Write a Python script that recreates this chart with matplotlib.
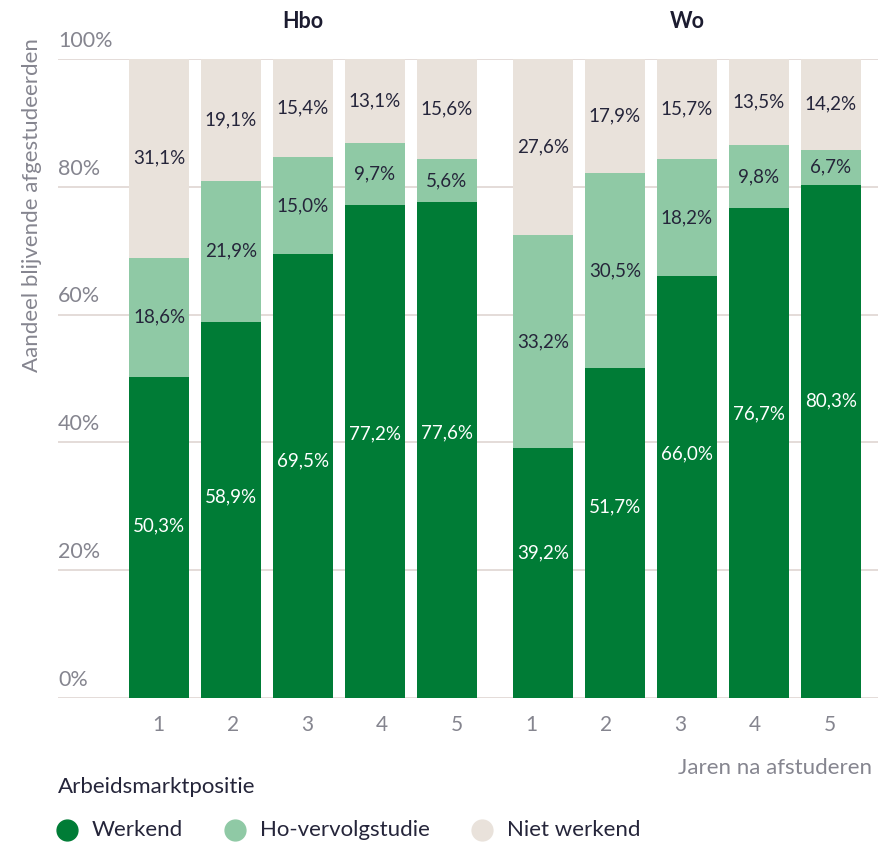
import matplotlib
matplotlib.use('Agg')
import matplotlib.pyplot as plt
import numpy as np
from matplotlib import transforms

plt.rcParams['font.family'] = ['Lato', 'DejaVu Sans']

groups = ['Hbo', 'Wo']
years = ['1', '2', '3', '4', '5']

hbo_werkend = [50.3, 58.9, 69.5, 77.2, 77.6]
hbo_vervolg = [18.6, 21.9, 15.0, 9.7, 5.6]
hbo_niet = [31.1, 19.1, 15.4, 13.1, 15.6]

wo_werkend = [39.2, 51.7, 66.0, 76.7, 80.3]
wo_vervolg = [33.2, 30.5, 18.2, 9.8, 6.7]
wo_niet = [27.6, 17.9, 15.7, 13.5, 14.2]

series_names = ['Werkend', 'Ho-vervolgstudie', 'Niet werkend']
colors = ['#007c36', '#8fc9a5', '#e9e2db']

DARK = '#25253a'
GREY = '#85858f'
GRID = '#e2d9d5'


def fmt(v):
    return f'{v:.1f}%'.replace('.', ',')


fig = plt.figure(figsize=(8.9, 8.43), dpi=100)
ax = fig.add_axes([58 / 890, 1 - 698 / 843, 820 / 890, 639 / 843])

width = 0.833
data = [(hbo_werkend, hbo_vervolg, hbo_niet), (wo_werkend, wo_vervolg, wo_niet)]
offsets = [0, 5.333]
label_frac = [0.535, 0.58]  # where the white label sits inside the dark segment

for g, (werk, verv, niet) in enumerate(data):
    x = np.arange(len(years)) + offsets[g]
    werk = np.array(werk)
    verv = np.array(verv)
    niet = np.array(niet)
    top_start = 100 - niet  # light segment fills up to where the beige starts
    ax.bar(x, werk, width, color=colors[0], zorder=2)
    ax.bar(x, top_start - werk, width, bottom=werk, color=colors[1], zorder=2)
    ax.bar(x, niet, width, bottom=top_start, color=colors[2], zorder=2)

    for i in range(len(x)):
        ax.text(x[i], werk[i] * label_frac[g], fmt(werk[i]), ha='center', va='center',
                color='white', fontsize=13.5, zorder=3)
        ax.text(x[i], (werk[i] + top_start[i]) / 2, fmt(verv[i]), ha='center', va='center',
                color=DARK, fontsize=13.5, zorder=3)
        ax.text(x[i], (top_start[i] + 100) / 2, fmt(niet[i]), ha='center', va='center',
                color=DARK, fontsize=13.5, zorder=3)

    ax.text(x.mean(), 105.8, groups[g], ha='center', va='center', fontsize=15.5,
            fontweight='bold', color='#1c1c30', clip_on=False)

ax.set_xlim(-1.403, 9.986)
ax.set_ylim(0, 100)

yt = [0, 20, 40, 60, 80, 100]
ax.set_yticks(yt)
ax.set_yticklabels([])
ax.tick_params(axis='y', length=0)
ax.yaxis.grid(True, color=GRID, lw=1.3, zorder=0)
ax.set_axisbelow(True)
trans = transforms.blended_transform_factory(ax.transAxes, ax.transData)
for v in yt:
    ax.text(0, v + 1.9, f'{v}%', transform=trans, ha='left', va='baseline',
            fontsize=15.5, color=GREY, clip_on=False)

tick_pos = np.arange(10) * 1.037 - 0.014
ax.set_xticks(tick_pos)
ax.set_xticklabels(years * 2, fontsize=15, color=GREY)
ax.tick_params(axis='x', length=0, pad=12)

for s in ax.spines.values():
    s.set_visible(False)

fig.text(32 / 890, 1 - 205 / 843, 'Aandeel blijvende afgestudeerden', rotation=90,
         ha='center', va='center', fontsize=16, color=GREY)
fig.text(872 / 890, 1 - 768 / 843, 'Jaren na afstuderen', ha='right', va='center',
         fontsize=16, color=GREY)
fig.text(58 / 890, 1 - 787 / 843, 'Arbeidsmarktpositie', ha='left', va='center',
         fontsize=16, color=DARK)

leg_x = [67, 235, 482]
for name, c, px in zip(series_names, colors, leg_x):
    fig.add_artist(plt.Line2D([px / 890], [1 - 830 / 843], marker='o', markersize=15,
                              color=c, lw=0, transform=fig.transFigure))
    fig.text((px + 25) / 890, 1 - 830 / 843, name, ha='left', va='center',
             fontsize=16, color=DARK)

fig.savefig('out.png', dpi=100)
